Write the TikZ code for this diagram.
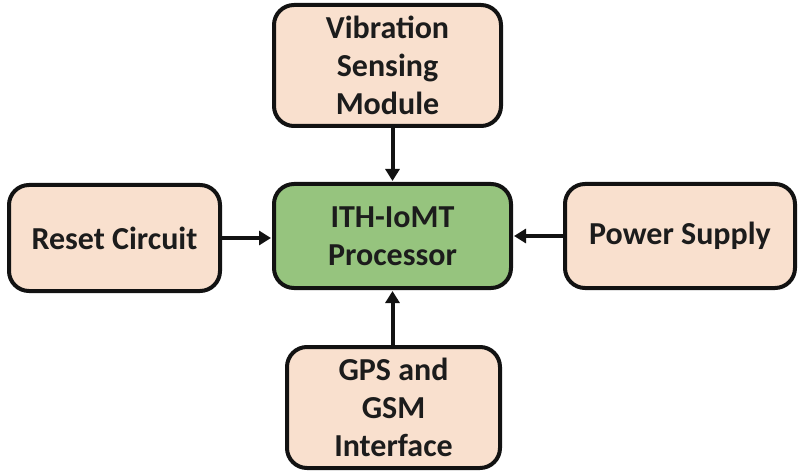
\documentclass[tikz,border=0pt]{standalone}
\usepackage{fontspec}
\setmainfont{Carlito}
\usetikzlibrary{arrows.meta}
\definecolor{peach}{RGB}{249,224,206}
\definecolor{procgreen}{RGB}{150,196,126}
\definecolor{edge}{RGB}{18,18,18}
\definecolor{label}{RGB}{28,28,28}
\tikzset{
  block/.style={draw=edge, line width=4pt, rounded corners=20pt, fill=peach,
    align=center, text=label, inner sep=0pt,
    font=\fontsize{32pt}{38pt}\selectfont\bfseries},
  core/.style={block, fill=procgreen},
  link/.style={draw=edge, line width=4pt,
    -{Triangle[length=12pt,width=14pt]}, shorten >=1pt}
}
\begin{document}
\begin{tikzpicture}[x=1pt,y=-1pt]
  \useasboundingbox (0,0) rectangle (798,473);
  \node[block, minimum width=227pt, minimum height=121pt] (vib) at (387.5,65.5)
    {Vibration\\Sensing\\Module};
  \node[block, minimum width=211pt, minimum height=106pt] (reset) at (114.5,238)
    {Reset Circuit};
  \node[core, minimum width=237pt, minimum height=104pt] (cpu) at (392.5,236)
    {ITH-IoMT\\Processor};
  \node[block, minimum width=230pt, minimum height=104pt] (power) at (680,236)
    {Power Supply};
  \node[block, minimum width=213pt, minimum height=121pt] (gps) at (393.5,407.5)
    {GPS and\\GSM\\Interface};
  \draw[link] (vib.south -| cpu) -- (cpu.north);
  \draw[link] (gps.north -| cpu) -- (cpu.south);
  \draw[link] (reset.east) -- (reset.east -| cpu.west);
  \draw[link] (power.west) -- (power.west -| cpu.east);
\end{tikzpicture}
\end{document}
